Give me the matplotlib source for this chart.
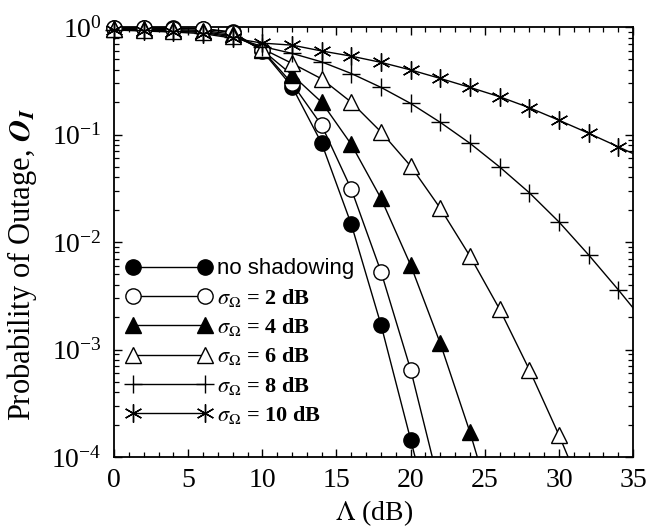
import numpy as np
import matplotlib
matplotlib.use('Agg')
import matplotlib.pyplot as plt
from matplotlib.lines import Line2D
from matplotlib.ticker import LogLocator, MultipleLocator, NullFormatter

plt.rcParams['font.family'] = ['Liberation Serif', 'DejaVu Serif']
plt.rcParams['mathtext.fontset'] = 'stix'

# Lambda (dB), points every 2 dB (last ones lie outside the axes and get clipped)
lam = [0, 2, 4, 6, 8, 10, 12, 14, 16, 18, 20, 22, 24, 26, 28, 30, 32, 34, 36]

# Outage probability
no_shadow = [0.99, 0.99, 0.98, 0.97, 0.90, 0.60, 0.28, 0.083, 0.0146, 0.0017, 0.000145, 1.2e-5]
sig2 = [0.98, 0.98, 0.97, 0.96, 0.89, 0.61, 0.30, 0.122, 0.031, 0.0053, 0.00065, 5e-5]
sig4 = [0.97, 0.96, 0.95, 0.93, 0.86, 0.61, 0.36, 0.20, 0.081, 0.0255, 0.0061, 0.00114, 0.00017, 2e-5]
sig6 = [0.96, 0.95, 0.93, 0.91, 0.83, 0.63, 0.46, 0.33, 0.20, 0.106, 0.051, 0.0206, 0.0074,
        0.00237, 0.00065, 0.00016, 3.5e-5]
sig8 = [0.95, 0.94, 0.92, 0.89, 0.81, 0.66, 0.57, 0.475, 0.37, 0.275, 0.195, 0.13, 0.083,
        0.05, 0.0288, 0.0154, 0.0076, 0.0036, 0.00165]
sig10 = [0.94, 0.92, 0.90, 0.87, 0.79, 0.71, 0.68, 0.60, 0.537, 0.47, 0.40, 0.333, 0.275,
         0.225, 0.178, 0.136, 0.103, 0.077, 0.0575]

labels = ['no shadowing', r'$\sigma_{\Omega}$ = 2 dB', r'$\sigma_{\Omega}$ = 4 dB',
          r'$\sigma_{\Omega}$ = 6 dB', r'$\sigma_{\Omega}$ = 8 dB', r'$\sigma_{\Omega}$ = 10 dB']
series = [no_shadow, sig2, sig4, sig6, sig8, sig10]
markers = ['o', 'o', '^', '^', '+', (6, 2, 0)]
faces = ['black', 'white', 'black', 'white', 'black', 'black']
sizes = [11, 11, 11, 11, 13, 13]

fig = plt.figure(figsize=(6.48, 5.32), dpi=100)
ax = fig.add_axes([0.176, 0.141, 0.801, 0.808])

handles = []
for y, m, fc, ms, lab in zip(series, markers, faces, sizes, labels):
    x = np.array(lam[:len(y)])
    y = np.array(y)
    ax.plot(x, y, color='black', lw=1.0, zorder=2)
    keep = (x <= 35) & (y >= 1e-4)
    ax.plot(x[keep], y[keep], ls='none', marker=m, ms=ms, mfc=fc, mec='black',
            mew=1.0, clip_on=False, zorder=3)
    handles.append(Line2D([], [], color='black', lw=1.0, marker=m, ms=ms,
                          mfc=fc, mec='black', mew=1.0, label=lab))

ax.set_yscale('log')
ax.set_xlim(0, 35)
ax.set_ylim(1e-4, 1)
ax.xaxis.set_major_locator(MultipleLocator(5))
ax.xaxis.set_minor_locator(MultipleLocator(1))
ax.yaxis.set_major_locator(LogLocator(base=10, numticks=10))
ax.yaxis.set_minor_locator(LogLocator(base=10, subs=np.arange(2, 10), numticks=20))
ax.yaxis.set_minor_formatter(NullFormatter())
ax.tick_params(which='both', direction='in', top=True, right=True, labelsize=20)
ax.tick_params(which='major', length=6, width=1.0)
ax.tick_params(which='minor', length=3.5, width=0.9)
ax.tick_params(axis='x', which='major', pad=8)
ax.tick_params(axis='y', which='major', pad=9)
for s in ax.spines.values():
    s.set_linewidth(1.3)

ax.set_xlabel(r'$\Lambda$ (dB)', fontsize=20, labelpad=4)
ax.set_ylabel(r'Probability of Outage, $\mathbfit{O}_{\mathbfit{I}}$', fontsize=22)
ax.yaxis.set_label_coords(-0.145, 0.447)

leg = ax.legend(handles=handles, loc='upper left', bbox_to_anchor=(0.0237, 0.462),
                frameon=False, borderpad=0, borderaxespad=0, handlelength=3.84,
                handletextpad=0.25, labelspacing=0.33, numpoints=2,
                prop={'family': 'Liberation Serif', 'weight': 'bold', 'size': 16})
t0 = leg.get_texts()[0]
t0.set_fontfamily('Liberation Sans')
t0.set_fontweight('normal')
t0.set_fontsize(16)

fig.savefig('out.png', dpi=100)
